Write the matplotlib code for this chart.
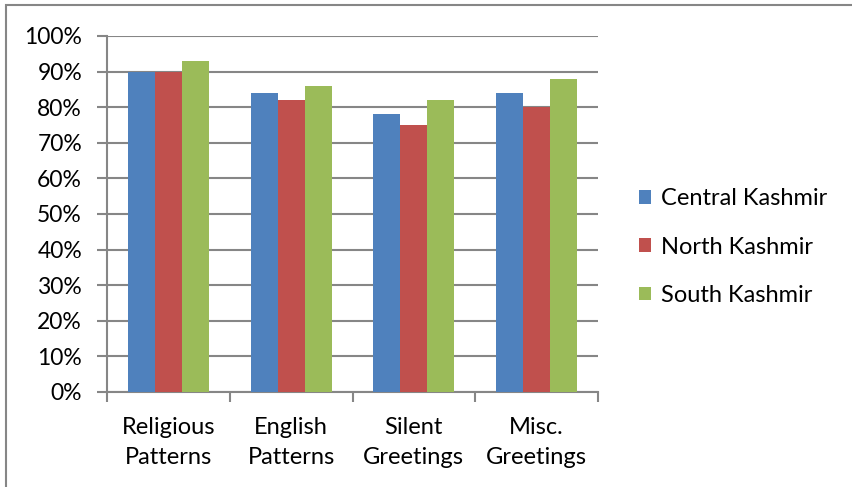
import matplotlib
matplotlib.use('Agg')
import matplotlib.pyplot as plt
from matplotlib.patches import Rectangle
from matplotlib.ticker import FuncFormatter
import numpy as np

# percent of respondents by pattern type and region
categories = ['Religious\nPatterns', 'English\nPatterns', 'Silent\nGreetings', 'Misc.\nGreetings']
central = [90, 84, 78, 84]
north = [90, 82, 75, 80]
south = [93, 86, 82, 88]
series_names = ['Central Kashmir', 'North Kashmir', 'South Kashmir']
colors = ['#4F81BD', '#C0504D', '#9BBB59']

plt.rcParams['font.family'] = ['Lato', 'DejaVu Sans']
W, H = 852, 487
fig = plt.figure(figsize=(W / 100., H / 100.), dpi=100)
ax = fig.add_axes([107. / W, 1 - 392. / H, 491. / W, 356. / H])

x = np.arange(len(categories))
bw = 0.22
for i, (vals, name, c) in enumerate(zip([central, north, south], series_names, colors)):
    ax.bar(x + (i - 1) * bw, vals, bw, color=c, label=name, zorder=3)

grid_col = '#868686'
fs = 17
ax.set_xlim(-0.5, len(categories) - 0.5)
ax.set_ylim(0, 100)
ax.set_yticks(np.arange(0, 101, 10))
ax.yaxis.set_major_formatter(FuncFormatter(lambda v, p: '%d%%' % v))
ax.yaxis.grid(True, color=grid_col, lw=1.5, zorder=0)
ax.set_axisbelow(True)

# category ticks sit on the boundaries between groups
ax.set_xticks(np.arange(-0.5, len(categories), 1.0))
ax.set_xticklabels([])
ax.set_xticks(x, minor=True)
ax.set_xticklabels(categories, minor=True, fontsize=fs, linespacing=1.5)
ax.tick_params(axis='x', which='minor', length=0, pad=18)
ax.tick_params(axis='x', which='major', length=7, color=grid_col, width=1.5)
ax.tick_params(axis='y', length=7, color=grid_col, width=1.5, labelsize=16.5, pad=11)

for s in ['top', 'right']:
    ax.spines[s].set_visible(False)
for s in ['left', 'bottom']:
    ax.spines[s].set_color(grid_col)
    ax.spines[s].set_linewidth(1.5)

leg = fig.legend(loc='center left', bbox_to_anchor=(639. / W, 1 - 247. / H),
                 frameon=False, fontsize=fs, handlelength=0.5, handleheight=0.5,
                 handletextpad=0.42, labelspacing=1.15, borderpad=0, borderaxespad=0)

# outer chart border
fig.patches.append(Rectangle((6. / W, -0.1), 1.0, 1.1 - 5. / H, transform=fig.transFigure,
                             fill=False, edgecolor=grid_col, lw=1.5))

fig.savefig('out.png', dpi=100)
